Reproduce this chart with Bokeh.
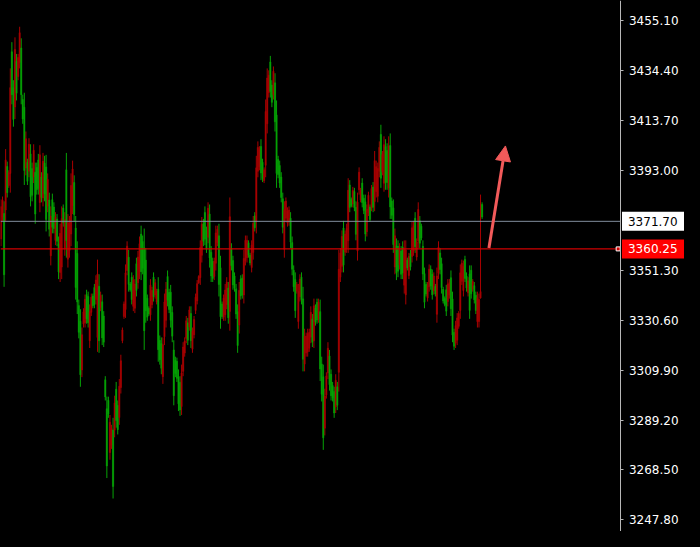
from bokeh.plotting import figure
from bokeh.models import (Range1d, FixedTicker, PrintfTickFormatter, Label,
                          Arrow, NormalHead, ColumnDataSource)
from bokeh.embed import file_html
from bokeh.resources import INLINE

# ---- OHLC data ----
opens = [
    3377.8, 3380.5, 3349.5, 3397.2, 3383.6, 3391.9, 3427.2, 3424.3, 3414.0, 3443.1,
    3424.9, 3439.7, 3450.0, 3424.3, 3414.2, 3392.8, 3406.0, 3388.3, 3403.7, 3381.9,
    3382.5, 3401.2, 3374.7, 3384.8, 3385.3, 3399.3, 3381.6, 3396.6, 3383.0, 3372.5,
    3389.1, 3368.4, 3373.9, 3369.2, 3368.7, 3373.5, 3363.4, 3350.7, 3366.7, 3372.9,
    3371.0, 3372.5, 3363.6, 3371.2, 3370.9, 3386.6, 3393.4, 3374.5, 3344.2, 3338.2,
    3325.6, 3308.0, 3324.6, 3334.1, 3339.3, 3331.2, 3329.6, 3334.2, 3340.2, 3336.6,
    3337.1, 3347.3, 3349.8, 3322.1, 3341.0, 3323.3, 3321.5, 3298.8, 3270.1, 3291.6,
    3288.3, 3285.7, 3261.6, 3296.3, 3289.0, 3285.2, 3303.2, 3313.8, 3326.6, 3337.4,
    3350.3, 3361.4, 3345.5, 3343.3, 3339.2, 3347.3, 3345.7, 3343.0, 3356.9, 3362.4,
    3350.8, 3352.2, 3326.3, 3334.6, 3331.9, 3333.2, 3345.2, 3343.0, 3340.4, 3346.2,
    3342.7, 3318.4, 3314.2, 3310.7, 3320.5, 3338.2, 3343.5, 3338.9, 3335.1, 3330.6,
    3324.0, 3299.3, 3308.5, 3306.5, 3295.9, 3293.4, 3308.7, 3319.5, 3322.0, 3330.4,
    3322.3, 3334.9, 3322.1, 3326.1, 3330.9, 3340.2, 3345.8, 3348.8, 3360.8, 3370.5,
    3363.4, 3364.3, 3360.1, 3377.1, 3356.5, 3349.0, 3348.0, 3355.1, 3366.9, 3368.4,
    3345.5, 3332.1, 3332.2, 3339.8, 3343.2, 3346.5, 3331.7, 3373.6, 3353.3, 3345.3,
    3344.0, 3333.2, 3320.1, 3343.0, 3340.7, 3341.1, 3356.3, 3363.8, 3363.8, 3357.6,
    3354.4, 3361.8, 3370.9, 3369.0, 3393.9, 3402.4, 3401.4, 3391.8, 3389.5, 3393.1,
    3417.3, 3431.2, 3432.4, 3425.6, 3421.1, 3434.0, 3413.0, 3391.6, 3391.1, 3387.6,
    3381.6, 3369.2, 3376.5, 3380.1, 3376.0, 3376.4, 3363.1, 3351.8, 3344.5, 3334.6,
    3345.5, 3342.7, 3347.7, 3339.2, 3314.4, 3324.1, 3324.0, 3325.1, 3325.6, 3333.9,
    3321.5, 3336.6, 3329.9, 3330.7, 3338.1, 3310.4, 3299.9, 3281.8, 3299.2, 3307.5,
    3319.0, 3303.9, 3299.3, 3298.4, 3292.1, 3305.7, 3295.3, 3351.8, 3358.6, 3365.4,
    3353.5, 3366.4, 3368.7, 3384.6, 3377.5, 3378.3, 3384.5, 3377.4, 3366.3, 3379.6,
    3392.1, 3384.6, 3379.5, 3376.2, 3366.4, 3376.7, 3382.5, 3372.5, 3385.3, 3377.5,
    3396.9, 3394.4, 3393.6, 3402.4, 3389.6, 3399.4, 3403.5, 3387.8, 3387.8, 3403.0,
    3377.7, 3374.2, 3362.1, 3365.7, 3350.3, 3351.0, 3360.6, 3349.7, 3350.2, 3360.3,
    3359.8, 3352.3, 3357.1, 3352.8, 3369.0, 3369.9, 3361.1, 3363.1, 3376.6, 3362.6,
    3364.8, 3349.8, 3338.1, 3341.5, 3345.0, 3351.8, 3344.8, 3341.2, 3349.0, 3341.5,
    3349.0, 3360.9, 3351.7, 3344.2, 3338.6, 3337.2, 3334.4, 3345.7, 3346.2, 3335.4,
    3324.5, 3319.8, 3328.4, 3331.6, 3333.4, 3350.3, 3354.3, 3352.9, 3348.0, 3344.0,
    3347.0, 3334.7, 3341.6, 3346.7, 3339.1, 3334.7, 3340.0, 3339.2, 3342.5, 3373.5,
]
highs = [
    3380.8, 3382.0, 3380.0, 3401.7, 3396.5, 3392.9, 3435.2, 3446.1, 3430.3, 3448.1,
    3441.2, 3441.2, 3452.5, 3447.7, 3424.3, 3425.1, 3409.0, 3397.7, 3406.2, 3403.7,
    3396.1, 3403.7, 3396.1, 3396.1, 3399.7, 3403.3, 3392.1, 3400.1, 3398.9, 3399.3,
    3391.6, 3383.6, 3377.9, 3383.2, 3379.6, 3375.5, 3374.7, 3365.4, 3370.7, 3377.9,
    3378.7, 3375.5, 3400.1, 3374.7, 3373.9, 3391.6, 3396.9, 3390.8, 3373.9, 3363.4,
    3339.2, 3335.2, 3327.6, 3335.6, 3341.3, 3343.3, 3342.5, 3337.2, 3341.7, 3341.7,
    3345.7, 3349.3, 3355.8, 3349.7, 3342.5, 3341.3, 3334.4, 3307.4, 3298.9, 3298.9,
    3291.3, 3287.2, 3290.1, 3299.3, 3305.0, 3297.3, 3306.2, 3316.3, 3327.6, 3338.4,
    3353.8, 3363.4, 3359.8, 3346.5, 3350.5, 3349.3, 3347.7, 3356.6, 3359.4, 3365.4,
    3369.9, 3365.8, 3368.7, 3360.6, 3341.3, 3336.4, 3347.7, 3344.5, 3350.5, 3347.7,
    3343.7, 3348.5, 3324.3, 3323.5, 3323.5, 3341.7, 3346.5, 3351.3, 3343.7, 3345.3,
    3336.4, 3322.3, 3315.5, 3315.1, 3310.2, 3307.4, 3312.2, 3321.5, 3323.5, 3332.4,
    3331.6, 3336.4, 3336.4, 3327.6, 3332.4, 3341.7, 3347.3, 3349.3, 3363.8, 3373.5,
    3372.7, 3377.9, 3369.5, 3379.6, 3378.7, 3361.4, 3356.6, 3356.6, 3369.9, 3369.9,
    3370.7, 3357.4, 3338.4, 3341.3, 3345.7, 3348.5, 3346.5, 3381.6, 3362.6, 3357.4,
    3350.5, 3345.7, 3337.2, 3346.5, 3349.3, 3349.7, 3359.8, 3365.8, 3365.8, 3363.8,
    3358.6, 3363.8, 3373.9, 3375.5, 3398.9, 3404.9, 3402.9, 3405.8, 3397.7, 3394.1,
    3422.3, 3435.2, 3434.4, 3440.4, 3430.3, 3436.0, 3433.2, 3421.9, 3398.9, 3396.9,
    3392.1, 3383.6, 3380.0, 3381.6, 3377.5, 3377.9, 3375.5, 3365.4, 3353.4, 3350.5,
    3346.5, 3345.7, 3349.7, 3350.5, 3344.5, 3327.1, 3325.5, 3327.1, 3327.1, 3336.4,
    3333.2, 3339.6, 3337.2, 3339.6, 3339.6, 3339.2, 3315.5, 3312.2, 3302.2, 3309.0,
    3321.5, 3318.3, 3310.2, 3305.0, 3303.0, 3308.2, 3305.0, 3359.8, 3360.6, 3367.9,
    3371.9, 3367.9, 3370.7, 3389.6, 3388.8, 3381.6, 3386.0, 3385.6, 3380.0, 3383.6,
    3394.1, 3385.6, 3389.6, 3382.8, 3382.8, 3378.7, 3384.0, 3378.7, 3386.8, 3388.0,
    3400.9, 3396.9, 3396.1, 3404.9, 3411.8, 3400.9, 3407.0, 3405.8, 3404.1, 3407.0,
    3408.2, 3381.6, 3380.8, 3368.7, 3364.6, 3363.8, 3362.6, 3361.4, 3363.4, 3363.8,
    3363.8, 3356.6, 3358.6, 3359.8, 3371.5, 3371.9, 3375.5, 3364.6, 3379.6, 3373.9,
    3370.7, 3363.8, 3352.5, 3346.5, 3346.5, 3353.8, 3353.4, 3351.7, 3350.5, 3345.7,
    3352.5, 3363.4, 3360.6, 3356.6, 3344.5, 3340.5, 3345.3, 3347.7, 3347.7, 3351.3,
    3342.5, 3327.1, 3330.4, 3333.6, 3334.4, 3353.8, 3355.8, 3355.4, 3357.4, 3350.5,
    3348.5, 3353.4, 3353.4, 3347.7, 3346.5, 3342.5, 3342.5, 3341.7, 3382.8, 3379.6,
]
lows = [
    3361.4, 3371.9, 3344.5, 3371.9, 3381.6, 3385.6, 3383.6, 3420.3, 3411.0, 3414.2,
    3421.9, 3430.3, 3435.2, 3420.3, 3412.2, 3386.8, 3390.8, 3386.8, 3390.0, 3377.9,
    3380.0, 3387.6, 3370.7, 3382.8, 3382.8, 3375.5, 3379.6, 3377.9, 3380.0, 3367.5,
    3375.5, 3365.4, 3353.4, 3366.7, 3366.7, 3361.8, 3361.4, 3347.7, 3346.5, 3347.7,
    3369.5, 3357.4, 3356.6, 3352.5, 3356.6, 3361.4, 3374.7, 3371.5, 3339.2, 3333.2,
    3323.1, 3303.0, 3307.0, 3327.6, 3327.6, 3329.2, 3327.6, 3319.1, 3332.4, 3335.6,
    3335.6, 3337.2, 3317.5, 3317.1, 3334.4, 3320.3, 3319.5, 3297.3, 3265.1, 3290.1,
    3272.7, 3277.2, 3256.6, 3282.0, 3286.0, 3283.2, 3287.2, 3300.2, 3321.1, 3331.2,
    3331.6, 3349.3, 3342.5, 3342.5, 3337.2, 3334.4, 3333.6, 3340.5, 3343.7, 3347.7,
    3347.3, 3349.7, 3318.3, 3329.6, 3330.4, 3332.4, 3330.4, 3335.6, 3338.4, 3339.6,
    3337.2, 3313.4, 3312.2, 3308.2, 3304.2, 3320.3, 3327.6, 3336.4, 3333.6, 3327.6,
    3321.5, 3295.3, 3307.0, 3305.0, 3292.9, 3290.9, 3291.3, 3307.4, 3315.5, 3321.1,
    3320.3, 3326.3, 3319.1, 3317.1, 3323.1, 3333.2, 3337.2, 3345.7, 3345.3, 3354.6,
    3361.4, 3361.8, 3358.6, 3362.6, 3352.5, 3346.5, 3346.5, 3347.3, 3351.3, 3361.4,
    3340.5, 3327.1, 3331.2, 3330.4, 3330.4, 3335.2, 3329.2, 3326.3, 3351.3, 3343.3,
    3342.5, 3331.2, 3317.1, 3325.1, 3339.2, 3339.6, 3337.6, 3353.4, 3354.6, 3356.6,
    3353.4, 3350.5, 3355.8, 3367.5, 3366.7, 3390.0, 3392.9, 3388.8, 3388.0, 3387.6,
    3390.0, 3408.2, 3423.1, 3423.1, 3419.1, 3422.3, 3409.0, 3385.6, 3389.6, 3385.6,
    3379.6, 3366.7, 3356.6, 3371.5, 3369.5, 3369.9, 3360.6, 3349.3, 3342.5, 3331.6,
    3341.7, 3327.1, 3338.4, 3337.2, 3309.4, 3309.4, 3315.5, 3315.5, 3317.5, 3321.1,
    3319.5, 3319.1, 3328.4, 3329.2, 3329.6, 3305.4, 3296.9, 3276.8, 3282.8, 3298.1,
    3306.2, 3301.4, 3297.3, 3296.9, 3290.1, 3292.1, 3293.3, 3301.0, 3346.5, 3350.5,
    3350.5, 3357.4, 3358.6, 3358.6, 3375.5, 3377.5, 3377.5, 3375.9, 3363.8, 3355.4,
    3382.8, 3379.6, 3377.5, 3374.7, 3363.4, 3365.4, 3373.9, 3371.5, 3375.9, 3375.5,
    3375.9, 3381.6, 3379.6, 3390.0, 3385.6, 3390.8, 3384.0, 3384.8, 3384.8, 3381.6,
    3372.7, 3372.7, 3358.6, 3349.7, 3347.3, 3348.5, 3351.7, 3347.7, 3347.7, 3341.7,
    3337.2, 3351.3, 3347.7, 3351.3, 3354.6, 3357.4, 3358.6, 3355.4, 3360.6, 3360.6,
    3363.8, 3347.3, 3335.6, 3340.5, 3338.4, 3342.5, 3343.3, 3339.2, 3341.3, 3340.5,
    3329.6, 3347.7, 3349.7, 3341.7, 3337.6, 3336.4, 3332.4, 3336.4, 3339.6, 3332.4,
    3321.5, 3318.3, 3319.1, 3320.3, 3327.1, 3331.2, 3345.3, 3340.5, 3346.5, 3342.5,
    3340.5, 3331.2, 3339.6, 3342.5, 3337.6, 3333.2, 3327.6, 3327.6, 3339.6, 3372.7,
]
closes = [
    3364.4, 3373.4, 3375.0, 3376.4, 3394.5, 3386.6, 3391.6, 3442.1, 3427.3, 3419.2,
    3438.2, 3431.8, 3437.7, 3443.7, 3422.3, 3419.1, 3393.8, 3396.2, 3392.5, 3399.7,
    3393.6, 3390.1, 3392.1, 3394.1, 3397.2, 3379.5, 3390.1, 3381.4, 3395.9, 3394.3,
    3378.0, 3380.6, 3357.4, 3380.7, 3377.6, 3363.8, 3372.7, 3362.4, 3350.5, 3352.7,
    3377.2, 3360.4, 3393.1, 3356.0, 3359.6, 3366.4, 3378.2, 3387.8, 3368.9, 3358.4,
    3336.7, 3330.2, 3310.0, 3329.1, 3329.6, 3341.3, 3340.5, 3322.1, 3333.9, 3340.7,
    3344.2, 3339.2, 3323.5, 3344.7, 3335.9, 3338.3, 3332.4, 3305.9, 3293.9, 3297.4,
    3275.7, 3278.7, 3285.1, 3285.0, 3302.0, 3295.3, 3290.2, 3302.7, 3322.1, 3332.2,
    3335.1, 3351.3, 3356.8, 3345.7, 3348.5, 3336.4, 3335.6, 3354.1, 3346.2, 3350.7,
    3366.4, 3363.3, 3360.7, 3355.6, 3339.8, 3335.6, 3332.9, 3337.1, 3348.5, 3341.1,
    3338.2, 3343.5, 3322.3, 3321.0, 3307.2, 3323.8, 3330.6, 3348.8, 3342.2, 3342.3,
    3333.9, 3318.3, 3314.0, 3313.6, 3307.2, 3304.9, 3294.8, 3309.4, 3317.0, 3323.1,
    3329.6, 3327.8, 3333.4, 3318.6, 3324.6, 3334.7, 3338.7, 3346.2, 3348.3, 3357.6,
    3370.7, 3375.4, 3368.0, 3365.1, 3374.7, 3358.9, 3355.1, 3348.8, 3354.3, 3362.9,
    3365.7, 3352.4, 3337.4, 3331.9, 3332.9, 3337.2, 3344.0, 3334.3, 3360.6, 3355.4,
    3349.0, 3343.7, 3334.2, 3328.6, 3347.8, 3348.2, 3341.1, 3355.4, 3356.6, 3362.8,
    3357.6, 3352.5, 3358.8, 3374.0, 3371.7, 3392.5, 3394.4, 3402.8, 3396.2, 3388.6,
    3395.0, 3412.2, 3425.1, 3437.9, 3428.3, 3424.3, 3429.2, 3415.9, 3397.4, 3394.9,
    3390.1, 3381.1, 3360.1, 3373.0, 3371.0, 3371.4, 3373.0, 3362.9, 3351.4, 3347.5,
    3342.7, 3330.1, 3340.4, 3348.5, 3339.5, 3312.4, 3317.0, 3317.5, 3319.0, 3323.6,
    3331.2, 3322.1, 3335.7, 3338.1, 3331.1, 3334.2, 3312.5, 3307.2, 3285.8, 3299.6,
    3308.7, 3315.8, 3308.2, 3303.5, 3301.0, 3294.6, 3303.0, 3309.0, 3348.5, 3353.0,
    3368.9, 3358.9, 3360.6, 3363.6, 3386.8, 3380.8, 3379.0, 3384.1, 3377.5, 3359.4,
    3384.8, 3380.6, 3387.6, 3381.3, 3379.8, 3367.4, 3375.4, 3377.7, 3377.4, 3386.0,
    3379.9, 3384.1, 3382.1, 3392.5, 3407.8, 3392.3, 3387.5, 3402.8, 3401.1, 3385.6,
    3403.2, 3380.1, 3377.3, 3352.7, 3361.6, 3361.3, 3353.7, 3359.4, 3360.9, 3345.2,
    3341.2, 3355.6, 3349.2, 3358.3, 3357.1, 3359.4, 3373.0, 3356.9, 3363.6, 3371.9,
    3369.7, 3361.3, 3350.0, 3345.5, 3339.9, 3344.5, 3351.9, 3349.7, 3342.8, 3344.7,
    3333.1, 3350.2, 3358.6, 3354.1, 3343.5, 3339.7, 3343.3, 3338.4, 3341.1, 3348.3,
    3339.5, 3325.6, 3321.1, 3322.3, 3328.1, 3334.7, 3346.8, 3343.0, 3355.9, 3349.0,
    3342.0, 3349.9, 3351.4, 3343.5, 3345.0, 3341.0, 3330.1, 3330.1, 3339.9, 3378.7,
]

price_ticks = [3455.10, 3434.40, 3413.70, 3393.00, 3351.30,
               3330.60, 3309.90, 3289.20, 3268.50, 3247.80]
ask_price = 3371.70
bid_price = 3360.25
# annotation arrow (bar index / price)
arrow_from = (313.4, 3360.6)
arrow_to = (324.0, 3403.0)

BULL = "#06a306"
BEAR = "#a80000"

idx = list(range(len(closes)))
colors = [BULL if c >= o else BEAR for o, c in zip(opens, closes)]
body_top = [max(o, c) for o, c in zip(opens, closes)]
body_bot = [min(o, c) for o, c in zip(opens, closes)]
src = ColumnDataSource(dict(x=idx, o=opens, h=highs, l=lows, c=closes,
                            top=body_top, bot=body_bot, color=colors))

X_START = -0.3
X_AXIS = 398.2      # where the price scale sits
X_END = 439.0       # frame covers the price-scale area as well
p = figure(width=684, height=531,
           x_range=Range1d(X_START, X_END), y_range=Range1d(3242.9, 3463.4),
           output_backend="svg", toolbar_location=None,
           x_axis_location=None, y_axis_location="right",
           background_fill_color="black", border_fill_color="black",
           min_border=0)
p.grid.visible = False
p.outline_line_color = None

p.segment(x0="x", y0="h", x1="x", y1="l", color="color", line_width=1, source=src)
p.vbar(x="x", top="top", bottom="bot", width=0.8, fill_color="color",
       line_color="color", line_width=0.5, source=src)

# price lines (stop at the price scale)
p.segment(x0=[X_START], y0=[ask_price], x1=[X_AXIS], y1=[ask_price],
          line_color="#808c9c", line_width=1)
p.segment(x0=[X_START], y0=[bid_price], x1=[X_AXIS], y1=[bid_price],
          line_color="#d00000", line_width=1.3)

# price scale
ax = p.yaxis[0]
ax.fixed_location = X_AXIS
ax.ticker = FixedTicker(ticks=price_ticks)
ax.formatter = PrintfTickFormatter(format="%.2f")
ax.axis_line_color = "#b8b8b8"
ax.major_tick_line_color = "#b8b8b8"
ax.major_tick_out = 3
ax.major_tick_in = 0
ax.minor_tick_line_color = None
ax.major_label_text_color = "#ffffff"
ax.major_label_text_font = "DejaVu Sans"
ax.major_label_text_font_size = "12px"
ax.major_label_standoff = 5

# price tags
tag_pad = dict(left=6, right=12, top=5, bottom=5)
p.add_layout(Label(x=X_AXIS, y=ask_price, x_offset=1, text=f"{ask_price:.2f}",
                   text_color="black", text_font="DejaVu Sans",
                   text_font_size="12px", text_baseline="middle",
                   background_fill_color="white", padding=tag_pad))
p.add_layout(Label(x=X_AXIS, y=bid_price, x_offset=1, text=f"{bid_price:.2f}",
                   text_color="#ffffff", text_font="DejaVu Sans",
                   text_font_size="12px", text_baseline="middle",
                   background_fill_color="#ff0000", padding=tag_pad))
p.scatter(x=[X_AXIS - 1.8], y=[bid_price], marker="square", size=4,
          fill_color="#d00000", line_color="white", line_width=1)

# arrow
p.add_layout(Arrow(end=NormalHead(size=15, fill_color="#f25a5a", line_color="#f25a5a"),
                   x_start=arrow_from[0], y_start=arrow_from[1],
                   x_end=arrow_to[0], y_end=arrow_to[1],
                   line_color="#f25a5a", line_width=3))

html = file_html(p, INLINE)
html = html.replace("<head>", "<head><style>html,body{background:#000;}</style>", 1)
open("out.html", "w").write(html)
